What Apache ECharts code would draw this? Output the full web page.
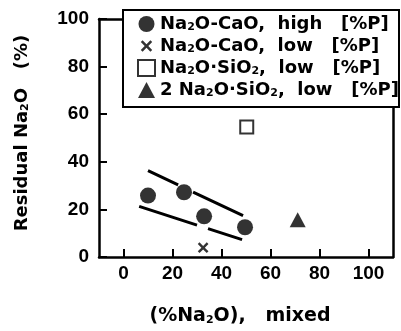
<!DOCTYPE html>
<html><head><meta charset="utf-8">
<script src="https://cdn.jsdelivr.net/npm/echarts@6/dist/echarts.min.js"></script>
<style>html,body{margin:0;padding:0;background:#fff}#c{width:401px;height:331px}</style>
</head><body><div id="c"></div>
<script>
const seriesNames = ['Na2O-CaO,  high   [%P]', 'Na2O-CaO,  low   [%P]', 'Na2O·SiO2,  low   [%P]', '2 Na2O·SiO2,  low   [%P]'];
const highCaO = [[10.0,25.8],[24.7,27.2],[32.9,17.1],[49.6,12.5]];
const lowCaO = [[32.5,3.9]];
const sio2 = [[50.3,54.6]];
const twoSio2 = [[71.1,15.7]];
const upperLine = [[10.0,36.3],[22.3,30.3],['-','-'],[28.4,27.3],[48.8,17.4]];
const lowerLine = [[6.4,21.3],[30.0,13.4],['-','-'],[34.5,11.9],[48.4,7.3]];
const xTicks = [0,20,40,60,80,100];
const yName = 'Residual Na{sub|2}O   (%)';
const xName = '(%Na{sub|2}O),   mixed';

const FONT = 'DejaVu Sans';
const crossPath = 'path://M-2,-2h0.01v0.01h-0.01z M12,12h0.01v0.01h-0.01z M0,1.6L1.6,0L5,3.4L8.4,0L10,1.6L6.6,5L10,8.4L8.4,10L5,6.6L1.6,10L0,8.4L3.4,5Z';
const subStyle = {fontSize: 11, fontWeight: 'bold', fontFamily: FONT, color: '#000', verticalAlign: 'bottom', padding: [6,0,0,0]};
const chart = echarts.init(document.getElementById('c'), null, {renderer: 'canvas'});
const axisLineStyle = {color: '#000', width: 2.5};
chart.setOption({
  animation: false,
  backgroundColor: '#fff',
  grid: {left: 99, right: 8, top: 19, bottom: 73.5, containLabel: false},
  graphic: [{type: 'rect', left: 122, top: 9, z: 3, shape: {width: 276, height: 97}, style: {fill: '#fff', stroke: '#000', lineWidth: 2}}],
  legend: {
    data: seriesNames, orient: 'vertical', left: 137, top: 15, padding: 0, itemWidth: 17, itemHeight: 16, itemGap: 4, z: 5,
    textStyle: {fontFamily: FONT, fontWeight: 'bold', fontSize: 18, color: '#000', rich: {sub: subStyle}},
    formatter: n => n.replace(/Na2/g, 'Na{sub|2}').replace(/SiO2/g, 'SiO{sub|2}')
  },
  xAxis: [{
    type: 'value', min: -10, max: 110, position: 'bottom',
    name: xName, nameLocation: 'middle', nameGap: 50,
    nameTextStyle: {fontFamily: FONT, fontWeight: 'bold', fontSize: 19, color: '#000', padding: [0, 12, 0, 0], rich: {sub: subStyle}},
    axisLine: {show: true, onZero: false, lineStyle: axisLineStyle},
    axisTick: {show: true, inside: true, length: 8, lineStyle: {color: '#000', width: 2}, customValues: xTicks},
    axisLabel: {customValues: xTicks, margin: 7, fontFamily: 'Liberation Sans', fontWeight: 'bold', fontSize: 19, color: '#000'},
    splitLine: {show: false}
  }, {
    type: 'value', min: -10, max: 110, position: 'top',
    axisLine: {show: true, onZero: false, lineStyle: axisLineStyle}, axisTick: {show: false}, axisLabel: {show: false}, splitLine: {show: false}
  }],
  yAxis: [{
    type: 'value', min: 0, max: 100, interval: 20, position: 'left',
    name: yName, nameLocation: 'middle', nameGap: 68, nameRotate: 90,
    nameTextStyle: {fontFamily: FONT, fontWeight: 'bold', fontSize: 18, color: '#000', padding: [0, 0, 0, 10], rich: {sub: subStyle}},
    axisLine: {show: true, onZero: false, lineStyle: axisLineStyle},
    axisTick: {show: true, inside: true, length: 8, lineStyle: {color: '#000', width: 2}},
    axisLabel: {margin: 10, fontFamily: 'Liberation Sans', fontWeight: 'bold', fontSize: 19, color: '#000'},
    splitLine: {show: false}
  }, {
    type: 'value', min: 0, max: 100, position: 'right',
    axisLine: {show: true, onZero: false, lineStyle: axisLineStyle}, axisTick: {show: false}, axisLabel: {show: false}, splitLine: {show: false}
  }],
  series: [
    {name: 'upper', type: 'line', data: upperLine, symbol: 'none', silent: true, z: 1, lineStyle: {color: '#000', width: 3}},
    {name: 'lower', type: 'line', data: lowerLine, symbol: 'none', silent: true, z: 1, lineStyle: {color: '#000', width: 3}},
    {name: seriesNames[0], type: 'scatter', data: highCaO, symbol: 'circle', symbolSize: 16, symbolKeepAspect: true, z: 2, itemStyle: {color: '#000'}},
    {name: seriesNames[1], type: 'scatter', data: lowCaO, symbol: crossPath, symbolSize: 15, symbolKeepAspect: true, z: 2, itemStyle: {color: '#000'}},
    {name: seriesNames[2], type: 'scatter', data: sio2, symbol: 'rect', symbolSize: 13, symbolKeepAspect: true, z: 2, itemStyle: {color: '#fff', borderColor: '#000', borderWidth: 2}},
    {name: seriesNames[3], type: 'scatter', data: twoSio2, symbol: 'triangle', symbolSize: [16,15], z: 2, itemStyle: {color: '#000'}}
  ]
});
</script>
</body></html>
